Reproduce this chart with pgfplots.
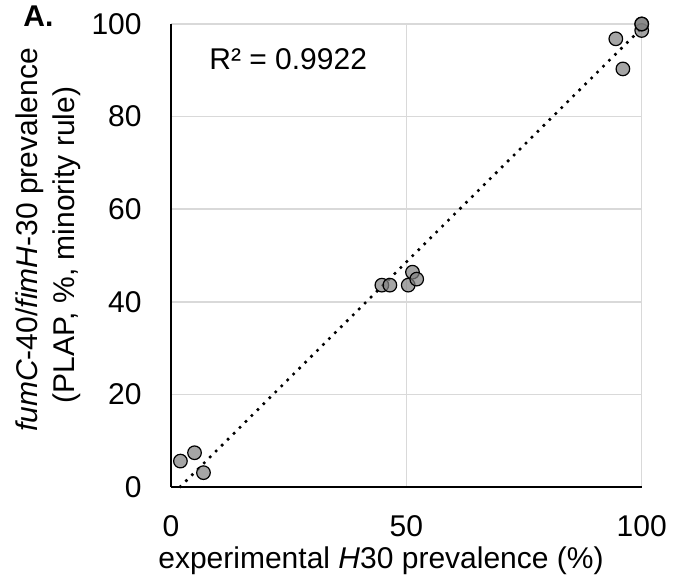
\documentclass[border=0pt]{standalone}
\usepackage{fontspec}
\setmainfont{Liberation Sans}
\usepackage{pgfplots}
\pgfplotsset{compat=1.18}
\definecolor{gridgray}{HTML}{D9D9D9}
\definecolor{markfill}{HTML}{7F7F7F}

\begin{document}
\begin{tikzpicture}[font=\fontsize{15}{18.5}\selectfont]
\begin{axis}[
  name=ax, scale only axis,
  width=235.35pt, height=231.5pt,
  xmin=0, xmax=100, ymin=0, ymax=100,
  xtick={0,50,100}, ytick={0,20,40,60,80,100},
  axis x line*=bottom, axis y line*=left,
  axis line style={line width=0.75pt},
  grid=major, major grid style={gridgray, line width=0.75pt},
  tick style={draw=none},
  xticklabel style={inner sep=0pt, anchor=north, yshift=-14pt},
  yticklabel style={inner sep=0pt, anchor=east, xshift=-14.5pt},
  /pgf/number format/assume math mode=true,
  clip=false,
]
% trend line (Excel linear fit)
\addplot[black, line width=1.8pt, dash pattern=on 0pt off 4.2pt, line cap=round]
  coordinates {(2,0.1) (100,99.1)};
\addplot[only marks, mark=*, mark size=3.4pt,
  mark options={fill=markfill, fill opacity=0.7, draw=black, line width=0.6pt}]
  coordinates {
  (2.0,5.6) (5.0,7.4) (6.9,3.1)
  (44.8,43.6) (46.5,43.6) (50.4,43.6) (51.3,46.4) (52.2,44.9)
  (94.5,96.8) (96.0,90.3) (100,98.6) (100,100) (100,100)
  };
\node[anchor=base] at (axis cs:24.9,90.1) {R² = 0.9922};
\end{axis}
\node[anchor=base, rotate=90] at ([shift={(-66.5pt,123.5pt)}]ax.south west)
  {\textit{fumC}-40/\textit{fimH}-30 prevalence};
\node[anchor=base, rotate=90] at ([shift={(-48pt,121pt)}]ax.south west)
  {(PLAP, \%, minority rule)};
\node[anchor=base] at ([shift={(105pt,-40.5pt)}]ax.south west)
  {experimental \textit{H}30 prevalence (\%)};
\node[anchor=base, font=\fontsize{15}{16}\selectfont\bfseries] at ([shift={(-66.25pt,230pt)}]ax.south west) {A.};
\pgfresetboundingbox
\path[use as bounding box] ([shift={(-85.5pt,-46pt)}]ax.south west) rectangle ([shift={(15.65pt,12pt)}]ax.north east);
\end{tikzpicture}
\end{document}
